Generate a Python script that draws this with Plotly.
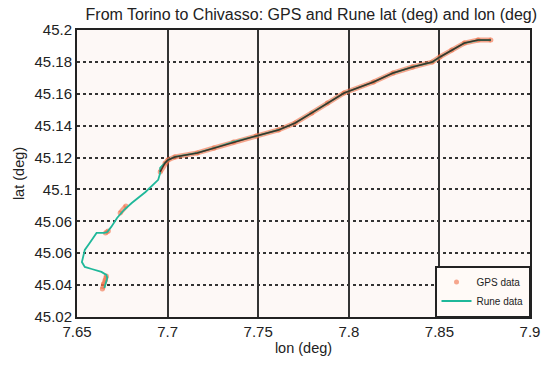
import plotly.graph_objects as go

# Rune data (teal track)
rune_lon = [7.6651, 7.6667, 7.6662, 7.6635, 7.6581, 7.6543, 7.6527, 7.6532, 7.6543, 7.6570,
            7.6597, 7.6608, 7.6651, 7.6667, 7.6689, 7.6721, 7.6759, 7.6802, 7.6878, 7.6948,
            7.6959, 7.6959, 7.6986, 7.7002, 7.7040, 7.7164, 7.7256, 7.7364, 7.7488, 7.7612,
            7.7704, 7.7796, 7.7882, 7.7974, 7.8136, 7.8244, 7.8352, 7.8460, 7.8503, 7.8568,
            7.8638, 7.8714, 7.8784]
rune_lat = [45.0382, 45.0445, 45.0464, 45.0483, 45.0501, 45.0514, 45.0545, 45.0577, 45.0621, 45.0664,
            45.0715, 45.0727, 45.0727, 45.0733, 45.0765, 45.0821, 45.0871, 45.0915, 45.0984, 45.1060,
            45.1103, 45.1135, 45.1166, 45.1185, 45.1204, 45.1229, 45.1260, 45.1298, 45.1335, 45.1373,
            45.1417, 45.1480, 45.1542, 45.1605, 45.1674, 45.1730, 45.1768, 45.1799, 45.1831, 45.1875,
            45.1918, 45.1937, 45.1937]

# GPS data (orange), None = gap in fixes
gps_lon = [7.6640, 7.6646, 7.6657, 7.6662, None,
           7.6657, 7.6673, None,
           7.6738, 7.6770, None,
           7.6959, 7.6986, 7.7002, 7.7040, 7.7164, 7.7256, 7.7364, 7.7488, 7.7612, 7.7704,
           7.7796, 7.7882, 7.7974, 7.8136, 7.8244, 7.8352, 7.8460, 7.8503, 7.8568, 7.8638,
           7.8714, 7.8784]
gps_lat = [45.0375, 45.0407, 45.0432, 45.0457, None,
           45.0727, 45.0740, None,
           45.0853, 45.0896, None,
           45.1110, 45.1166, 45.1185, 45.1204, 45.1229, 45.1260, 45.1298, 45.1335, 45.1373, 45.1417,
           45.1480, 45.1542, 45.1605, 45.1674, 45.1730, 45.1768, 45.1799, 45.1831, 45.1875, 45.1918,
           45.1937, 45.1937]

x_ticks = [7.65, 7.7, 7.75, 7.8, 7.85, 7.9]
x_labels = ["7.65", "7.7", "7.75", "7.8", "7.85", "7.9"]
y_ticks = [45.02, 45.04, 45.06, 45.08, 45.1, 45.12, 45.14, 45.16, 45.18, 45.2]
y_labels = ["45.02", "45.04", "45.06", "45.06", "45.1", "45.12", "45.14", "45.16", "45.18", "45.2"]

ORANGE = "rgba(240,110,70,0.6)"
TEAL = "#1fb89a"
DARK = "rgba(70,35,25,0.9)"

fig = go.Figure()
fig.add_trace(go.Scatter(x=gps_lon, y=gps_lat, mode="lines", connectgaps=False,
                         line=dict(color=ORANGE, width=5), showlegend=False, hoverinfo="skip"))
fig.add_trace(go.Scatter(x=gps_lon, y=gps_lat, mode="markers", name="GPS data",
                         marker=dict(color=ORANGE, size=5)))
fig.add_trace(go.Scatter(x=rune_lon, y=rune_lat, mode="lines", name="Rune data",
                         line=dict(color=TEAL, width=1.8)))
fig.add_trace(go.Scatter(x=gps_lon[11:], y=gps_lat[11:], mode="lines",
                         line=dict(color=DARK, width=1.6), showlegend=False, hoverinfo="skip"))

font = "Liberation Sans, Arial, sans-serif"
fig.update_layout(
    width=551, height=369,
    margin=dict(l=77, r=11, t=30, b=52),
    paper_bgcolor="white",
    plot_bgcolor="#fdf8f6",
    font=dict(family=font, size=15, color="#222"),
    title=dict(text="From Torino to Chivasso: GPS and Rune lat (deg) and lon (deg)",
               x=0.565, xanchor="center", y=0.962, yanchor="middle",
               font=dict(size=16, color="#222")),
    showlegend=True,
    legend=dict(x=1.0, y=0.0, xanchor="right", yanchor="bottom",
                bgcolor="#fffaf7", bordercolor="#222", borderwidth=1.5,
                font=dict(size=10, color="#222"),
                tracegroupgap=0, itemwidth=30,
                ),
)
fig.update_xaxes(
    range=[7.65, 7.9], tickmode="array", tickvals=x_ticks, ticktext=x_labels,
    showgrid=True, gridcolor="#333", gridwidth=1.5,
    showline=True, linecolor="#222", linewidth=2, mirror=True,
    ticks="", zeroline=False,
    title=dict(text="lon (deg)", font=dict(size=14.5), standoff=4),
)
fig.update_yaxes(
    range=[45.02, 45.2], tickmode="array", tickvals=y_ticks, ticktext=y_labels,
    showgrid=True, gridcolor="#333", gridwidth=1.6, griddash="dot",
    showline=True, linecolor="#222", linewidth=2, mirror=True,
    ticks="", zeroline=False,
    title=dict(text="lat (deg)", font=dict(size=14.5), standoff=6),
)

fig.write_html("out.html")
